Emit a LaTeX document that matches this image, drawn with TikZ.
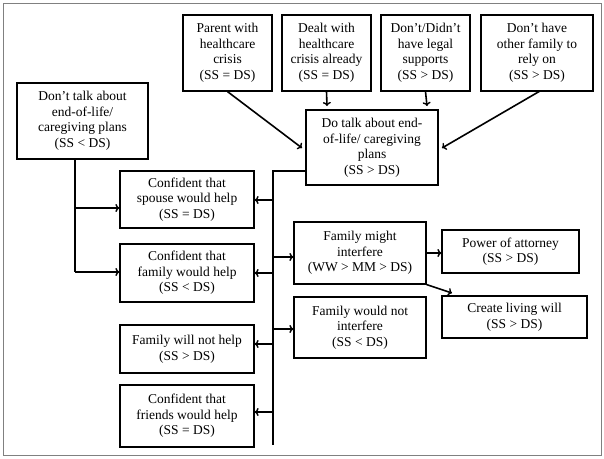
\documentclass[tikz,border=0pt]{standalone}
\usepackage{fontspec}
\setmainfont{Liberation Serif}
\usetikzlibrary{arrows.meta}
\begin{document}
\begin{tikzpicture}[x=1pt,y=-1pt,
  bx/.style={draw,line width=1.2pt,align=center,inner sep=0pt,font=\fontsize{13.5}{15.5}\selectfont},
  ar/.style={line width=1.6pt,-{To[length=4pt,width=8pt,line width=1.4pt]}},
  ln/.style={line width=1.6pt}]
\useasboundingbox (0,0) rectangle (604,458);
\draw[gray,line width=1pt] (3,3) rectangle (601,455);
\newcommand\bx[6]{\node[bx,minimum width=#4-#2,minimum height=#5-#3] (#1) at ({(#2+#4)/2},{(#3+#5)/2}) {#6};}
\bx{parent}{183}{15}{272}{91}{Parent with\\healthcare\\crisis\\(SS = DS)}
\bx{dealt}{282}{15}{371}{91}{Dealt with\\healthcare\\crisis already\\(SS = DS)}
\bx{legal}{381}{15}{470}{91}{Don’t/Didn’t\\have legal\\supports\\(SS > DS)}
\bx{other}{481}{15}{593}{91}{Don’t have\\other family to\\rely on\\(SS > DS)}
\bx{dont}{17}{83}{148}{159}{Don’t talk about\\end-of-life/\\caregiving plans\\(SS < DS)}
\bx{do}{306}{110}{438}{185}{Do talk about end-\\of-life/ caregiving\\plans\\(SS > DS)}
\bx{spouse}{120}{171}{254}{228}{Confident that\\spouse would help\\(SS = DS)}
\bx{family}{120}{244}{254}{302}{Confident that\\family would help\\(SS < DS)}
\bx{notelp}{120}{325}{254}{373}{Family will not help\\(SS > DS)}
\bx{friends}{120}{385}{254}{447}{Confident that\\friends would help\\(SS = DS)}
\bx{might}{294}{222}{426}{284}{Family might\\interfere\\(WW > MM > DS)}
\bx{wouldnot}{294}{297}{426}{358}{Family would not\\interfere\\(SS < DS)}
\bx{poa}{442}{230}{579}{273}{Power of attorney\\(SS > DS)}
\bx{will}{442}{296}{587}{338}{Create living will\\(SS > DS)}
\coordinate (v1) at (273,171);
\coordinate (v2) at (273,445);
\coordinate (d1) at (75,272);
\draw[ar] (parent.south) -- (302,148);
\draw[ar] (dealt.south) -- (327,106);
\draw[ar] (legal.south) -- (427,106);
\draw[ar] (540,91) -- (442,148);
\draw[ln] (do.west |- v1) -- (v1) -- (v2);
\foreach \y/\n in {200/spouse,273/family,344/notelp,412/friends}
  \draw[ar] (273,\y) -- (\n.east |- 0,\y);
\foreach \y/\n in {257/might,329/wouldnot}
  \draw[ar] (273,\y) -- (\n.west |- 0,\y);
\draw[ln] (dont.south -| d1) -- (d1);
\draw[ar] (75,208) -- (spouse.west |- 0,208);
\draw[ar] (d1) -- (family.west |- d1);
\draw[ar] (might.east |- 0,253) -- (poa.west |- 0,253);
\draw[ar] (might.south east) -- (452,293);
\end{tikzpicture}
\end{document}
